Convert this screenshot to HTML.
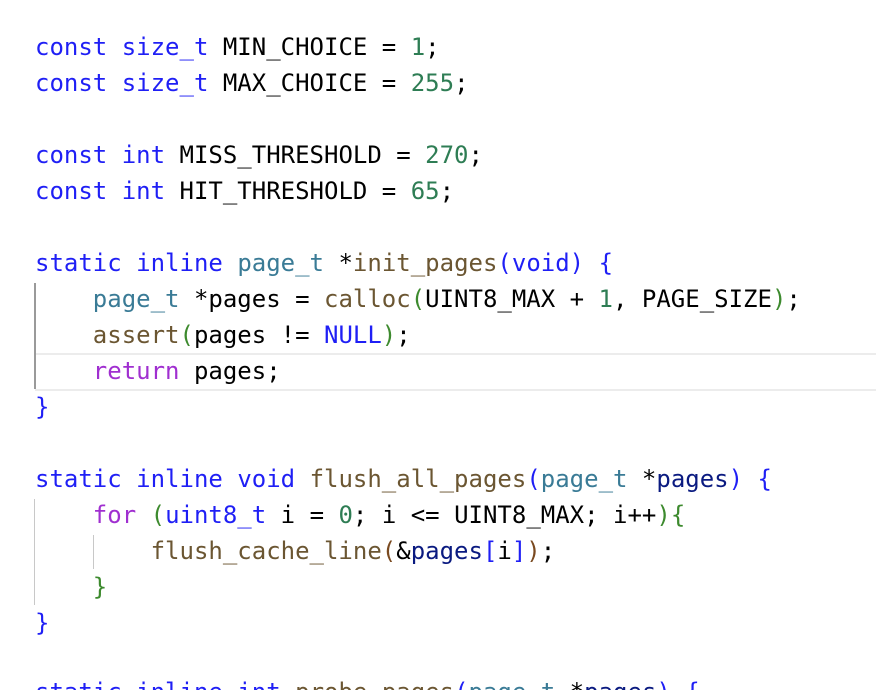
<!DOCTYPE html>
<html><head><meta charset="utf-8"><style>
html,body{margin:0;width:876px;height:690px;background:#fff;overflow:hidden;position:relative}
.l{position:absolute;left:35px;height:36px;line-height:36px;font-family:"DejaVu Sans Mono","Liberation Mono",monospace;font-size:24px;white-space:pre;color:#000}
.k{color:#1f1ff5}.t{color:#3a7b96}.f{color:#6b5632}.n{color:#2e7d54}.p{color:#3d8a2e}.r{color:#a02fd0}.v{color:#0a1a80}.b{color:#7a4a20}
.g{position:absolute;background:#c8c8c8;width:2px}
</style></head><body>
<div style="position:absolute;left:35px;top:353px;width:841px;height:34px;border-top:2px solid #ececec;border-bottom:2px solid #ececec"></div>
<div class="g" style="left:34px;top:283px;height:106px;background:#9a9a9a"></div>
<div class="g" style="left:34px;top:499px;height:106px;width:1px"></div>
<div class="g" style="left:93px;top:535px;height:34px;width:1px"></div>
<div class="l" style="top:29px"><span class="k">const</span> <span class="k">size_t</span> MIN_CHOICE = <span class="n">1</span>;</div>
<div class="l" style="top:65px"><span class="k">const</span> <span class="k">size_t</span> MAX_CHOICE = <span class="n">255</span>;</div>
<div class="l" style="top:137px"><span class="k">const</span> <span class="k">int</span> MISS_THRESHOLD = <span class="n">270</span>;</div>
<div class="l" style="top:173px"><span class="k">const</span> <span class="k">int</span> HIT_THRESHOLD = <span class="n">65</span>;</div>
<div class="l" style="top:245px"><span class="k">static</span> <span class="k">inline</span> <span class="t">page_t</span> *<span class="f">init_pages</span><span class="k">(void)</span> <span class="k">{</span></div>
<div class="l" style="top:281px">    <span class="t">page_t</span> *pages = <span class="f">calloc</span><span class="p">(</span>UINT8_MAX + <span class="n">1</span>, PAGE_SIZE<span class="p">)</span>;</div>
<div class="l" style="top:317px">    <span class="f">assert</span><span class="p">(</span>pages != <span class="k">NULL</span><span class="p">)</span>;</div>
<div class="l" style="top:353px">    <span class="r">return</span> pages;</div>
<div class="l" style="top:389px"><span class="k">}</span></div>
<div class="l" style="top:461px"><span class="k">static</span> <span class="k">inline</span> <span class="k">void</span> <span class="f">flush_all_pages</span><span class="k">(</span><span class="t">page_t</span> *<span class="v">pages</span><span class="k">)</span> <span class="k">{</span></div>
<div class="l" style="top:497px">    <span class="r">for</span> <span class="p">(</span><span class="k">uint8_t</span> i = <span class="n">0</span>; i &lt;= UINT8_MAX; i++<span class="p">)</span><span class="p">{</span></div>
<div class="l" style="top:533px">        <span class="f">flush_cache_line</span><span class="b">(</span>&amp;<span class="v">pages</span><span class="k">[</span>i<span class="k">]</span><span class="b">)</span>;</div>
<div class="l" style="top:569px">    <span class="p">}</span></div>
<div class="l" style="top:605px"><span class="k">}</span></div>
<div style="position:absolute;left:0;top:674px;width:876px;height:16px;overflow:hidden">
<div class="l" style="top:0"><span class="k">static</span> <span class="k">inline</span> <span class="k">int</span> <span class="f">probe_pages</span><span class="k">(</span><span class="t">page_t</span> *<span class="v">pages</span><span class="k">)</span> <span class="k">{</span></div>
</div>
</body></html>
